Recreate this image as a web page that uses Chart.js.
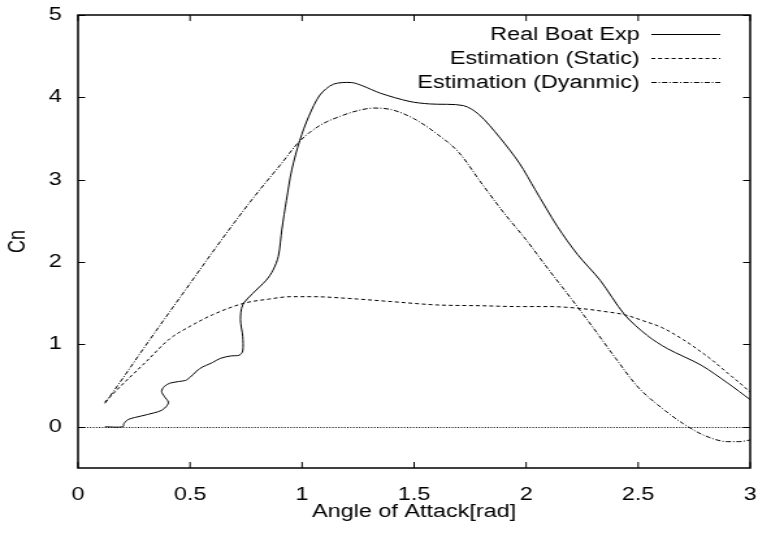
<!DOCTYPE html>
<html>
<head>
<meta charset="utf-8">
<script src="https://cdn.jsdelivr.net/npm/chart.js@4/dist/chart.umd.min.js"></script>
<style>
  html, body { margin: 0; padding: 0; background: #fff; }
</style>
</head>
<body>
<!-- drawn narrow, shown wide: gives the wide gnuplot-style lettering -->
<canvas id="cnChart" width="583" height="544" style="width:758px;height:544px;display:block"></canvas>
<script>
const realX = [0.12, 0.2, 0.205, 0.225, 0.28, 0.34, 0.373, 0.395, 0.403, 0.385, 0.373, 0.385, 0.41, 0.45, 0.485,
  0.545, 0.6, 0.634, 0.68, 0.72, 0.735, 0.735, 0.725, 0.735, 0.78, 0.84, 0.87, 0.894, 0.91, 0.93, 0.954, 0.99,
  1.03, 1.08, 1.14, 1.22, 1.27, 1.35, 1.48, 1.57, 1.72, 1.79, 1.88, 1.97, 2.04, 2.14, 2.23, 2.33, 2.44, 2.54,
  2.63, 2.78, 2.9, 3.0];
const realY = [0, 0, 0.04, 0.09, 0.13, 0.17, 0.2, 0.25, 0.3, 0.37, 0.43, 0.49, 0.53, 0.55, 0.57,
  0.71, 0.78, 0.83, 0.86, 0.87, 0.92, 1.1, 1.3, 1.48, 1.62, 1.78, 1.9, 2.07, 2.4, 2.75, 3.12, 3.48,
  3.77, 4.03, 4.16, 4.18, 4.14, 4.05, 3.95, 3.92, 3.9, 3.79, 3.52, 3.2, 2.88, 2.43, 2.09, 1.78, 1.36, 1.11,
  0.95, 0.75, 0.53, 0.33];

const staticX = [0.12, 0.2, 0.25, 0.3, 0.41, 0.5, 0.6, 0.74, 0.85, 0.95, 1.05, 1.2, 1.4, 1.6, 1.8, 1.97, 2.1,
  2.23, 2.35, 2.44, 2.52, 2.61, 2.7, 2.76, 2.83, 2.9, 2.95, 3.0];
const staticY = [0.3, 0.52, 0.65, 0.78, 1.07, 1.22, 1.36, 1.5, 1.55, 1.58, 1.58, 1.56, 1.52, 1.48, 1.47, 1.46, 1.46,
  1.44, 1.4, 1.36, 1.29, 1.2, 1.06, 0.95, 0.81, 0.65, 0.54, 0.42];

const dynX = [0.12, 0.2, 0.3, 0.41, 0.5, 0.6, 0.72, 0.8, 0.9, 0.99, 1.08, 1.17, 1.25, 1.32, 1.4, 1.5, 1.6, 1.7,
  1.8, 1.9, 2.0, 2.1, 2.2, 2.3, 2.4, 2.5, 2.6, 2.7, 2.8, 2.9, 2.95, 3.0];
const dynY = [0.285, 0.59, 0.98, 1.4, 1.74, 2.12, 2.56, 2.84, 3.17, 3.47, 3.66, 3.77, 3.84, 3.87, 3.85, 3.74, 3.56, 3.33,
  2.96, 2.6, 2.27, 1.91, 1.56, 1.2, 0.83, 0.48, 0.24, 0.04, -0.11, -0.18, -0.18, -0.16];

const xTicks = [0, 0.5, 1, 1.5, 2, 2.5, 3];
const xTickLabels = ["0", "0.5", "1", "1.5", "2", "2.5", "3"];
const yTicks = [0, 1, 2, 3, 4, 5];
const yTickLabels = ["0", "1", "2", "3", "4", "5"];

const FONT = "'Liberation Sans', Arial, sans-serif";

function toPoints(xs, ys) {
  return xs.map((x, i) => ({ x, y: ys[i] }));
}

// fixed axis sizes, no extra room for the end labels
function fixSize(s, w, h) {
  if (w) s.width = w;
  if (h) s.height = h;
  s.paddingLeft = s.paddingRight = s.paddingTop = s.paddingBottom = 0;
}

// gnuplot style box: inward ticks on all four sides, dotted zero axis
const frame = {
  id: "frame",
  beforeDatasetsDraw(chart) {
    const { ctx, chartArea: a, scales: { y } } = chart;
    ctx.save();
    ctx.strokeStyle = "#000";
    ctx.lineWidth = 1;
    ctx.setLineDash([1, 1.3]);
    const y0 = Math.round(y.getPixelForValue(0)) + 0.5;
    ctx.beginPath();
    ctx.moveTo(a.left, y0);
    ctx.lineTo(a.right, y0);
    ctx.stroke();
    ctx.restore();
  },
  afterDatasetsDraw(chart) {
    const { ctx, chartArea: a, scales: { x, y } } = chart;
    ctx.save();
    ctx.strokeStyle = "#000";
    ctx.lineWidth = 1;
    ctx.beginPath();
    x.ticks.forEach(t => {
      const px = x.getPixelForValue(t.value);
      ctx.moveTo(px, a.bottom); ctx.lineTo(px, a.bottom - 6);
      ctx.moveTo(px, a.top); ctx.lineTo(px, a.top + 6);
    });
    y.ticks.forEach(t => {
      const py = Math.round(y.getPixelForValue(t.value)) + 0.5;
      ctx.moveTo(a.left, py); ctx.lineTo(a.left + 5.5, py);
      ctx.moveTo(a.right, py); ctx.lineTo(a.right - 5.5, py);
    });
    ctx.stroke();
    ctx.lineWidth = 1.5;
    ctx.strokeRect(a.left, a.top, a.right - a.left, a.bottom - a.top);
    ctx.restore();
  }
};

// key in the top right corner, text first then the line sample
const KEY_TEXT_RIGHT = 492;
const KEY_LINE_FROM = 501;
const KEY_LINE_TO = 554;
const KEY_TOP = 34;
const KEY_STEP = 24;

const key = {
  id: "key",
  afterDraw(chart) {
    const ctx = chart.ctx;
    ctx.save();
    ctx.font = "18px " + FONT;
    ctx.textAlign = "right";
    ctx.textBaseline = "middle";
    chart.data.datasets.forEach((ds, i) => {
      const y = KEY_TOP + i * KEY_STEP + 0.5;
      ctx.fillStyle = "#000";
      ctx.fillText(ds.label, KEY_TEXT_RIGHT, y + 1);
      ctx.beginPath();
      ctx.setLineDash(ds.borderDash || []);
      ctx.strokeStyle = ds.borderColor;
      ctx.lineWidth = ds.borderWidth;
      ctx.moveTo(KEY_LINE_FROM, y);
      ctx.lineTo(KEY_LINE_TO, y);
      ctx.stroke();
    });
    ctx.restore();
  }
};

Chart.defaults.font.family = FONT;
Chart.defaults.font.size = 18;
Chart.defaults.color = "#000";

new Chart(document.getElementById("cnChart"), {
  type: "scatter",
  data: {
    datasets: [
      {
        label: "Real Boat Exp",
        data: toPoints(realX, realY),
        showLine: true,
        borderColor: "#000",
        borderWidth: 1,
        pointRadius: 0,
        tension: 0.3
      },
      {
        label: "Estimation (Static)",
        data: toPoints(staticX, staticY),
        showLine: true,
        borderColor: "#000",
        borderWidth: 1,
        borderDash: [3, 2.2],
        pointRadius: 0,
        cubicInterpolationMode: "monotone"
      },
      {
        label: "Estimation (Dyanmic)",
        data: toPoints(dynX, dynY),
        showLine: true,
        borderColor: "#000",
        borderWidth: 1,
        borderDash: [4, 1.6, 1, 1.6],
        pointRadius: 0,
        cubicInterpolationMode: "monotone"
      }
    ]
  },
  options: {
    responsive: false,
    animation: false,
    events: [],
    layout: { padding: { top: 15, right: 6, left: 0, bottom: 0 } },
    plugins: {
      legend: { display: false },
      tooltip: { enabled: false }
    },
    scales: {
      x: {
        type: "linear",
        min: 0,
        max: 3,
        afterBuildTicks: s => { s.ticks = xTicks.map(v => ({ value: v })); },
        afterFit: s => fixSize(s, 0, 76),
        ticks: { padding: 16, maxRotation: 0, callback: (v, i) => xTickLabels[i] },
        grid: { display: false, drawTicks: false },
        border: { display: false },
        title: { display: true, text: "Angle of Attack[rad]", padding: { top: 0, bottom: 21 } }
      },
      y: {
        type: "linear",
        min: -0.5,
        max: 5,
        afterBuildTicks: s => { s.ticks = yTicks.map(v => ({ value: v })); },
        afterFit: s => fixSize(s, 60, 0),
        ticks: { padding: 12.5, callback: (v, i) => yTickLabels[i] },
        grid: { display: false, drawTicks: false },
        border: { display: false },
        title: { display: true, text: "Cn", padding: { top: 3, bottom: 0 } }
      }
    }
  },
  plugins: [frame, key]
});
</script>
</body>
</html>
